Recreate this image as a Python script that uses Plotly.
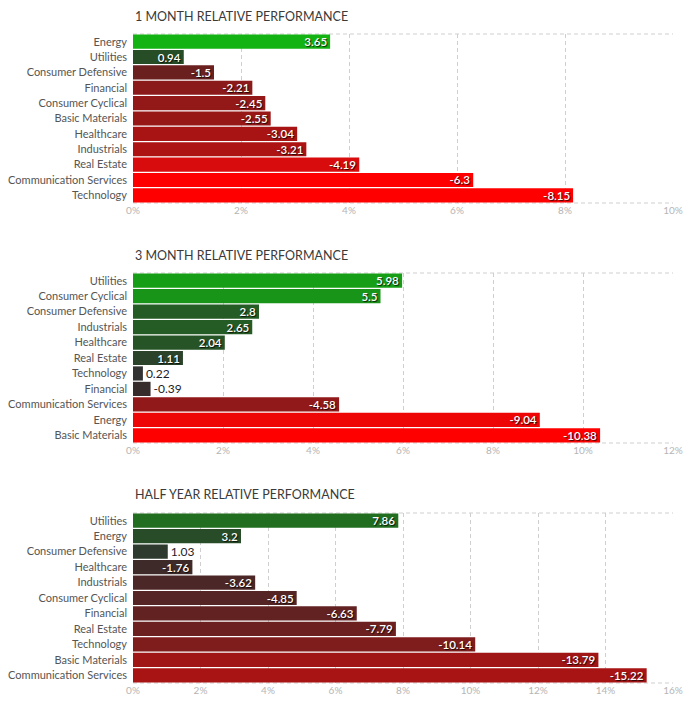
import plotly.graph_objects as go
from plotly.subplots import make_subplots

# ---- data ----
m1_sectors = ["Energy", "Utilities", "Consumer Defensive", "Financial", "Consumer Cyclical",
              "Basic Materials", "Healthcare", "Industrials", "Real Estate",
              "Communication Services", "Technology"]
m1_values = [3.65, 0.94, -1.5, -2.21, -2.45, -2.55, -3.04, -3.21, -4.19, -6.3, -8.15]

m3_sectors = ["Utilities", "Consumer Cyclical", "Consumer Defensive", "Industrials", "Healthcare",
              "Real Estate", "Technology", "Financial", "Communication Services",
              "Energy", "Basic Materials"]
m3_values = [5.98, 5.5, 2.8, 2.65, 2.04, 1.11, 0.22, -0.39, -4.58, -9.04, -10.38]

hy_sectors = ["Utilities", "Energy", "Consumer Defensive", "Healthcare", "Industrials",
              "Consumer Cyclical", "Financial", "Real Estate", "Technology",
              "Basic Materials", "Communication Services"]
hy_values = [7.86, 3.2, 1.03, -1.76, -3.62, -4.85, -6.63, -7.79, -10.14, -13.79, -15.22]

titles = ["1 MONTH RELATIVE PERFORMANCE", "3 MONTH RELATIVE PERFORMANCE", "HALF YEAR RELATIVE PERFORMANCE"]
x_max = [10, 12, 16]

# ---- styles ----
m1_colors = ["#12b312", "#264d26", "#6b2020", "#8b1a1a", "#931818", "#971717",
             "#a81414", "#ad1313", "#d80c0c", "#ff0000", "#ff0000"]
m3_colors = ["#169f16", "#189418", "#255c25", "#255c25", "#275427", "#2a432a",
             "#333333", "#362c2c", "#921919", "#ee0606", "#ff0000"]
hy_colors = ["#216e21", "#284b28", "#2d3a2d", "#3f2a2a", "#4c2727", "#552525",
             "#632222", "#6d2020", "#7f1d1d", "#a01515", "#a81414"]

panels = [(m1_sectors, m1_values, m1_colors),
          (m3_sectors, m3_values, m3_colors),
          (hy_sectors, hy_values, hy_colors)]

# page body has an 8px margin: figure origin sits at page (8, 8)
OFF = 8
W, H = 678, 689
PLOT_L, PLOT_R = 133 - OFF, 673 - OFF
plot_w = PLOT_R - PLOT_L
MT = 34 - OFF
MB = H - (683 - OFF)
ph = H - MT - MB

def py(page_px):
    return (H - MB - (page_px - OFF)) / ph

domains = [(py(203), py(34)), (py(443), py(273)), (py(683), py(513))]
title_y = [16, 255, 494]

font_family = "Lato, 'Open Sans', sans-serif"
fig = make_subplots(rows=3, cols=1)

for i, (sec, vals, cols) in enumerate(panels):
    bar_px = [abs(v) / x_max[i] * plot_w for v in vals]
    pos = ["inside" if b > 38 else "outside" for b in bar_px]
    fig.add_trace(go.Bar(
        y=sec, x=[abs(v) for v in vals], orientation="h",
        marker=dict(color=cols, line=dict(width=0)),
        text=[f"{v:g}" for v in vals], textposition=pos,
        insidetextanchor="end", constraintext="none",
        insidetextfont=dict(color="white", size=11.5, family=font_family, weight=600,
                            shadow="1px 1px 1px rgba(0,0,0,0.8)"),
        outsidetextfont=dict(color="#1c1c28", size=12, family=font_family),
        textangle=0, cliponaxis=False, hoverinfo="skip", showlegend=False,
    ), row=i + 1, col=1)

fig.update_layout(
    width=W, height=H, paper_bgcolor="white", plot_bgcolor="white",
    margin=dict(l=PLOT_L, r=W - PLOT_R, t=MT, b=MB, autoexpand=False),
    bargap=0.08, font=dict(family=font_family, color="#555555", size=11),
)

for i in range(3):
    xa = "xaxis" if i == 0 else f"xaxis{i+1}"
    ya = "yaxis" if i == 0 else f"yaxis{i+1}"
    fig.update_layout(**{
        xa: dict(range=[0, x_max[i]], dtick=2, ticksuffix="%", showgrid=True,
                 gridcolor="#cfcfcf", griddash="4px,3px", gridwidth=1, zeroline=False,
                 showline=False, tickfont=dict(color="#b5b5b5", size=10), ticks="",
                 automargin=False, fixedrange=True),
        ya: dict(domain=list(domains[i]), autorange="reversed", showgrid=False,
                 tickfont=dict(color="#555555", size=11), ticks="",
                 ticklabelstandoff=5, automargin=False,
                 showline=False, zeroline=False),
    })
    xref = "x" if i == 0 else f"x{i+1}"
    yref = "y" if i == 0 else f"y{i+1}"
    for yy in (0, 1):
        fig.add_shape(type="line", xref=f"{xref} domain", yref=f"{yref} domain",
                      x0=0, x1=1, y0=yy, y1=yy, layer="below",
                      line=dict(color="#cfcfcf", width=1, dash="4px,3px"))
    fig.add_annotation(text=titles[i], xref="paper", yref="paper", x=0, y=py(title_y[i]),
                       xanchor="left", yanchor="middle", showarrow=False,
                       font=dict(size=12.5, color="#3a3a3a", family=font_family))

fig.write_html("out.html")
